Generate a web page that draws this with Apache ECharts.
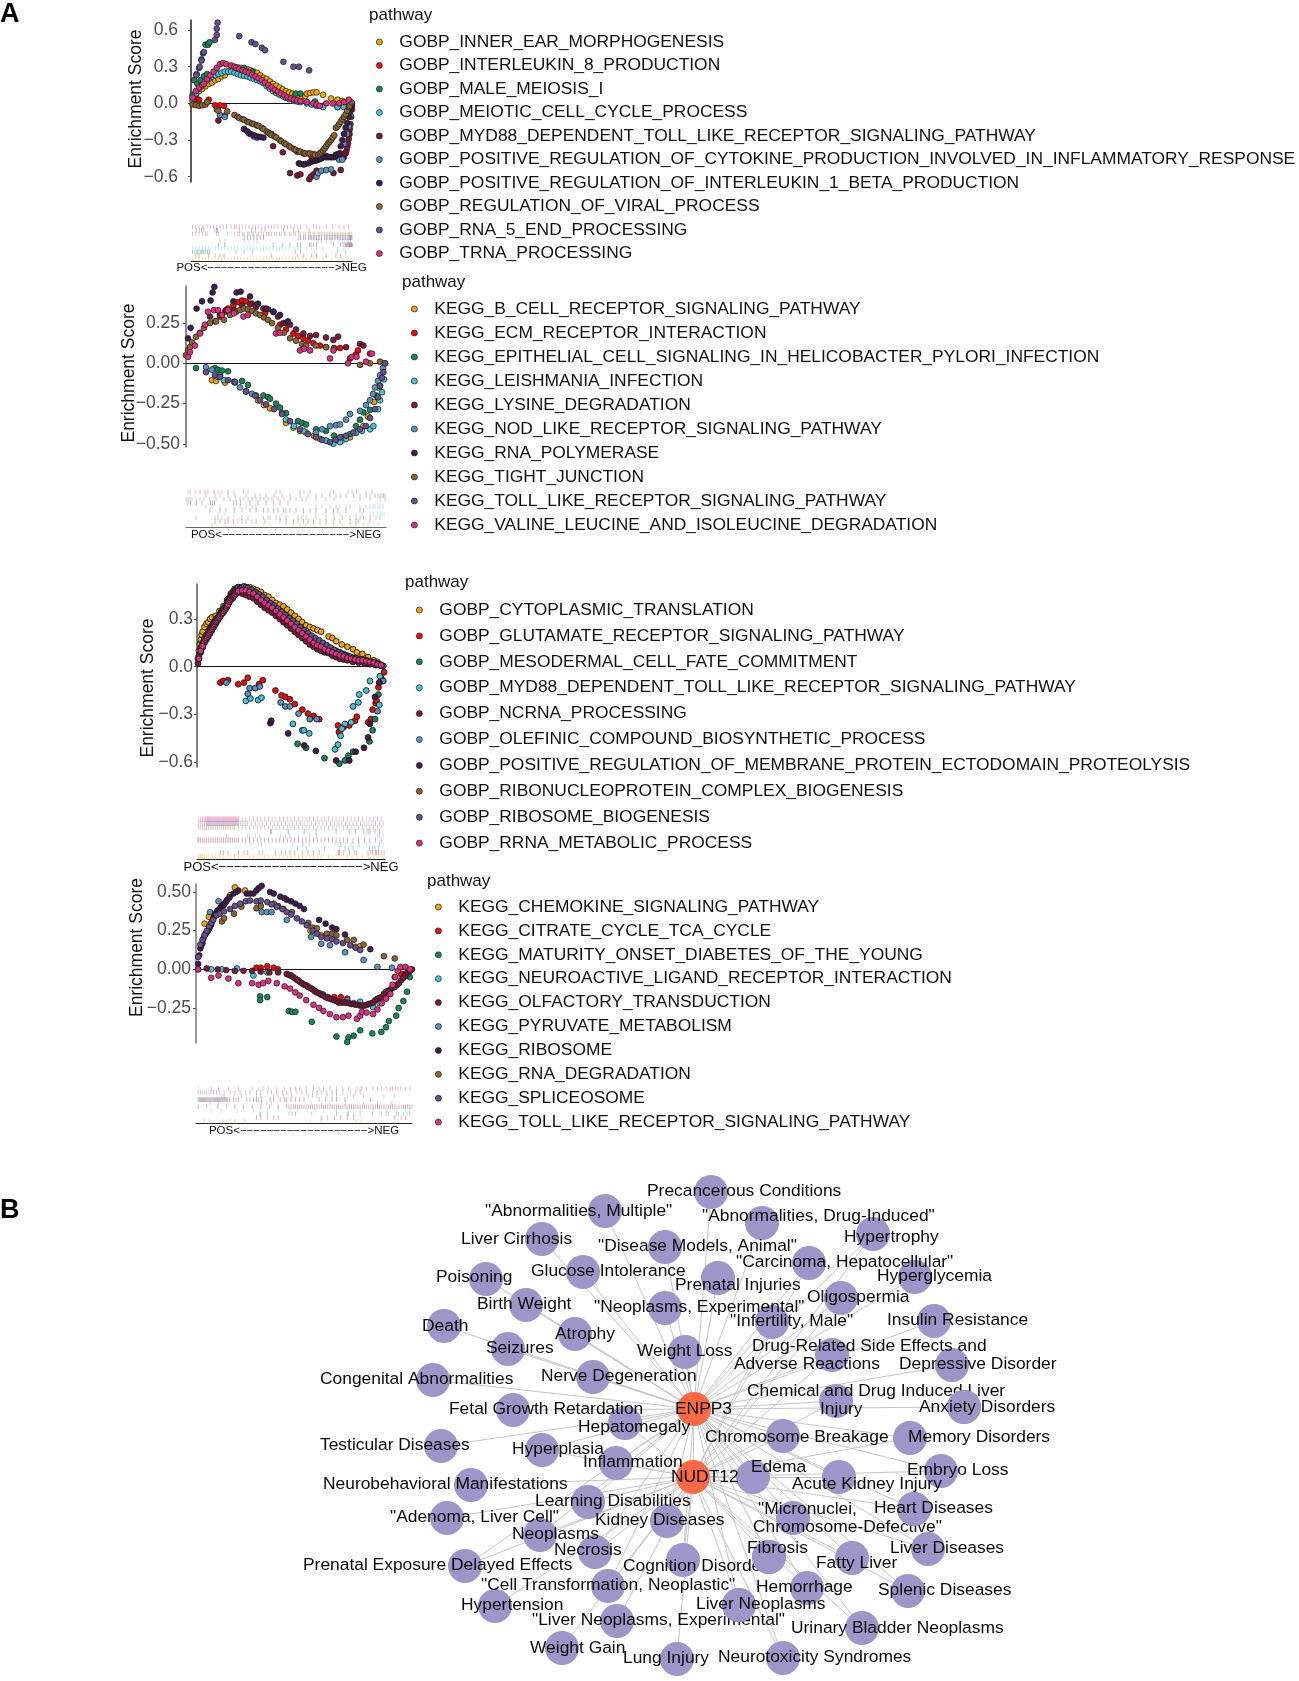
<!DOCTYPE html>
<html>
<head>
<meta charset="utf-8">
<style>html,body{margin:0;padding:0;background:#fff}#chart{width:1299px;height:1681px}</style>
<script src="https://cdn.jsdelivr.net/npm/echarts@6/dist/echarts.min.js"></script>
</head>
<body>
<div id="chart"></div>
<script>
// enrichment curves: flat lists of rank %, ES, rank %, ES ...
var colors = ['#F2A40C', '#EE0A0A', '#17875A', '#45C4D4', '#7A1A3A', '#5A92C0', '#3F1C50', '#8E6530', '#665090', '#DD3080'];

var namesA1 = ['GOBP_INNER_EAR_MORPHOGENESIS', 'GOBP_INTERLEUKIN_8_PRODUCTION', 'GOBP_MALE_MEIOSIS_I', 'GOBP_MEIOTIC_CELL_CYCLE_PROCESS', 'GOBP_MYD88_DEPENDENT_TOLL_LIKE_RECEPTOR_SIGNALING_PATHWAY', 'GOBP_POSITIVE_REGULATION_OF_CYTOKINE_PRODUCTION_INVOLVED_IN_INFLAMMATORY_RESPONSE', 'GOBP_POSITIVE_REGULATION_OF_INTERLEUKIN_1_BETA_PRODUCTION', 'GOBP_REGULATION_OF_VIRAL_PROCESS', 'GOBP_RNA_5_END_PROCESSING', 'GOBP_TRNA_PROCESSING'];
var namesA2 = ['KEGG_B_CELL_RECEPTOR_SIGNALING_PATHWAY', 'KEGG_ECM_RECEPTOR_INTERACTION', 'KEGG_EPITHELIAL_CELL_SIGNALING_IN_HELICOBACTER_PYLORI_INFECTION', 'KEGG_LEISHMANIA_INFECTION', 'KEGG_LYSINE_DEGRADATION', 'KEGG_NOD_LIKE_RECEPTOR_SIGNALING_PATHWAY', 'KEGG_RNA_POLYMERASE', 'KEGG_TIGHT_JUNCTION', 'KEGG_TOLL_LIKE_RECEPTOR_SIGNALING_PATHWAY', 'KEGG_VALINE_LEUCINE_AND_ISOLEUCINE_DEGRADATION'];
var namesA3 = ['GOBP_CYTOPLASMIC_TRANSLATION', 'GOBP_GLUTAMATE_RECEPTOR_SIGNALING_PATHWAY', 'GOBP_MESODERMAL_CELL_FATE_COMMITMENT', 'GOBP_MYD88_DEPENDENT_TOLL_LIKE_RECEPTOR_SIGNALING_PATHWAY', 'GOBP_NCRNA_PROCESSING', 'GOBP_OLEFINIC_COMPOUND_BIOSYNTHETIC_PROCESS', 'GOBP_POSITIVE_REGULATION_OF_MEMBRANE_PROTEIN_ECTODOMAIN_PROTEOLYSIS', 'GOBP_RIBONUCLEOPROTEIN_COMPLEX_BIOGENESIS', 'GOBP_RIBOSOME_BIOGENESIS', 'GOBP_RRNA_METABOLIC_PROCESS'];
var namesA4 = ['KEGG_CHEMOKINE_SIGNALING_PATHWAY', 'KEGG_CITRATE_CYCLE_TCA_CYCLE', 'KEGG_MATURITY_ONSET_DIABETES_OF_THE_YOUNG', 'KEGG_NEUROACTIVE_LIGAND_RECEPTOR_INTERACTION', 'KEGG_OLFACTORY_TRANSDUCTION', 'KEGG_PYRUVATE_METABOLISM', 'KEGG_RIBOSOME', 'KEGG_RNA_DEGRADATION', 'KEGG_SPLICEOSOME', 'KEGG_TOLL_LIKE_RECEPTOR_SIGNALING_PATHWAY'];

// panel 1
var p1Inner = [1,.02,3,.07,5,.1,7,.12,9,.14,11,.16,13,.17,15,.19,17,.2,19,.22,21,.23,23,.26,25,.28,27,.29,29,.295,31,.29,33,.285,35,.28,37,.27,39,.26,41,.25,43,.23,45,.21,47,.2,49,.18,51,.16,53,.145,55,.13,57,.115,59,.1,61,.09,63,.08,65,.07,67,.06,69,.05,71,.06,72,.08,74,.085,76,.09,78,.09,82,.07,87,.04,91,.03,94,.02,97,.01];
var p1Il8 = [3,.035,5,.03,11,.03,15,-.015,18,-.016,20.5,-.02,50,-.25,66,-.395,70,-.41,75,-.44,78,-.46,84,-.43,90,-.42,93,-.41];
var p1Meiosis = [1,.07,2,.19,3.5,.24,5,.29,6.5,.36,7.5,.41,9,.48,10.5,.48,11.5,.5,4,.16,6,.19,8,.22,10,.24,28,.285,33,.29,38,.26,65,.08,68,.08,77,.015,91,-.03,96,-.02];
var p1Meiotic = [1,.04,3,.08,5,.12,7,.15,9,.18,11,.2,13,.22,15,.23,17,.24,19,.25,21,.26,23,.26,25,.26,27,.25,29,.24,31,.23,33,.225,35,.22,37,.21,39,.2,41,.19,43,.18,45,.165,47,.14,49,.12,51,.1,53,.085,55,.07,57,.06,59,.045,61,.035,64,.02,66,.015,68,.01,72,0,75,-.01,78,-.02,82,-.03,91,-.03,95,-.03,98,0];
var p1Myd88 = [17,-.14,21,-.1,51,-.35,57,-.4,61.5,-.57,66,-.59,68,-.58,73.5,-.62,74.5,-.6,76,-.58,78,-.55,88.5,-.57,93,-.545,95,-.44,96,-.41,96.5,-.39,97,-.36,97.5,-.33,98,-.29,98.5,-.25,98.7,-.21,99,-.17,99.5,-.11,100,-.05,100,-.02];
var p1Cytokine = [18,-.095,21,-.11,33,-.21,36,-.245,39,-.27,41,-.28,78,-.6,79,-.57,81,-.55,84,-.545,87,-.54,92,-.46,94,-.46,95,-.33,97,-.25,98,-.19,99,-.1];
var p1Il1b = [33,-.21,35,-.23,37,-.25,39,-.26,41,-.27,43,-.275,45,-.28,67,-.49,68,-.495,70,-.5,71,-.495,73,-.49,74,-.48,75,-.475,76,-.47,77,-.47,78,-.465,79,-.46,80,-.455,81,-.45,83,-.44,84,-.44,85,-.44,86,-.44,87,-.44,88,-.44,89,-.44,90,-.43,91,-.42,92,-.41,93,-.35,94,-.3,95,-.25,96,-.2,97,-.16,98,-.11,98.5,-.07,99,-.03,99.5,-.02,100,0];
var p1Viral = [1,-.01,3,-.015,5,-.02,7,-.015,9,-.01,10,.01,16,-.05,17,-.06,22.5,-.065,27,-.095,29,-.11,30,-.12,32,-.13,33,-.135,35,-.15,36,-.155,38,-.165,39,-.17,41,-.18,42,-.185,44,-.2,45,-.21,47,-.23,48,-.24,49,-.25,50,-.26,52,-.27,53,-.28,55,-.3,56,-.31,58,-.325,59,-.335,61,-.35,62,-.36,64,-.375,65,-.38,67,-.39,68,-.395,70,-.405,71,-.41,73,-.41,74,-.41,76,-.415,77,-.42,79,-.42,80,-.41,81,-.4,82,-.385,83,-.37,84,-.35,85,-.33,86,-.315,87,-.3,88,-.28,89,-.26,90,-.2,91,-.19,92,-.17,93,-.15,94,-.13,95,-.11,96,-.09,97,-.06,98,-.03,98.5,-.02,99.5,.01];
var p1Rna5 = [3.3,.23,5.4,.3,6.5,.35,8,.42,14.8,.52,16,.56,16,.61,16.5,.66,30,.55,37.6,.5,40,.485,44,.455,46,.435,57.4,.34,63.6,.3,67,.3,73.4,.27];
var p1Trna = [1,.05,3,.1,5,.13,7,.15,8,.16,10,.2,12,.23,14,.26,16,.29,18,.32,20,.33,22,.32,25,.31,27,.3,28,.29,30,.28,32,.27,34,.26,36,.25,38,.235,40,.22,42,.205,44,.19,46,.17,48,.15,50,.13,52,.11,54,.095,56,.08,58,.065,60,.05,62,.04,64,.03,66,.025,68,.02,72,.01,76,0,78,-.01,80,-.02,84,0,88,0,92,0,95,.01,98,.03];

// panel 2
var p2Bcell = [13,-.105,15,-.11,19.5,-.12,36,-.23,39,-.26,42,-.28,50,-.37,53.7,-.4,57,-.42,60,-.43,64,-.45,67,-.47,70,-.48,73.7,-.49,78,-.48,82,-.46,85,-.43,88.7,-.39,91,-.33,94,-.24,96,-.15];
var p2Ecm = [14.5,.26,17,.29,19.5,.32,21,.34,23.7,.36,26,.38,28,.39,30,.385,33,.37,35,.35,39.5,.31,47,.24,50,.21,53.7,.185,56,.17,58.7,.155,61,.14,63.7,.125,67,.11,70,.1,74,.095,77,.095,82,.03,85,.055,86,.08,92,.06];
var p2Epith = [5,-.03,14.5,-.03,16,-.04,18,-.045,21,-.05,28,-.11,31,-.135,38.7,-.2,41,-.21,42,-.22,45,-.25,47,-.275,50,-.31,56,-.36,58,-.37,60,-.38,65,-.41,70,-.42,74,-.45,78,-.46,82,-.44,85,-.39,87,-.35,88.7,-.305,92,-.29,95,-.2,97,-.14];
var p2Leish = [16,-.085,19,-.105,24,-.115,48,-.31,50,-.35,54,-.39,58.7,-.42,65,-.45,70,-.48,73.7,-.5,77,-.49,80,-.47,85,-.43,88,-.42,92,-.41,93.7,-.39,96,-.285,97,-.23,98,-.18,99,-.1];
var p2Lysine = [12,.29,17,.3,20,.33,24,.33,28,.36,32,.37,35,.36,38.7,.34,41,.335,43.7,.32,46,.29,48.7,.25,50,.25,52,.24,55,.21,58.7,.185,62,.17,65,.175,70,.16,73.7,.145,76,.165,80,.1,87,.12,88.7,.11];
var p2Nod = [10,-.025,13,-.04,17,-.075,24.5,-.12,27,-.15,30,-.175,33,-.19,35,-.2,65,-.43,68,-.41,72,-.39,75,-.385,77,-.38,80,-.35,82,-.315,87,-.295,90,-.26,92,-.23,93.5,-.19,94.5,-.15,96,-.11,97,-.075,98.5,-.03];
var p2RnaPol = [1,.155,2.3,.22,5.3,.34,8,.385,12.3,.39,13.3,.44,14.2,.475,23.7,.385,25.3,.44,27.3,.445,32,.415,36,.37,40,.34,43.7,.32,47,.3,51,.26];
var p2Tight = [0,.05,1,.08,2,.1,3,.13,5,.165,7,.19,9,.22,12,.25,15,.26,19,.27,22,.3,25,.32,27,.33,29,.34,31,.335,33,.325,35,.31,37,.3,39,.285,41,.27,43,.25,46,.22,49,.19,52,.155,55,.14,58,.12,60,.11,65,.11,70,.1,74,.09,87,-.01,92,0,97,.01,99.5,0];
var p2Toll = [10,-.055,14.5,-.075,17,-.085,21,-.105,24.5,-.115,30,-.175,34.5,-.2,37,-.23,40,-.255,44,-.285,48,-.315,52,-.36,57,-.41,61,-.44,65,-.46,68,-.475,72,-.49,75,-.475,77,-.46,80,-.45,83.7,-.43,87,-.41,90,-.39,92,-.34,94.5,-.285,96,-.21,97,-.14,98,-.09,98.7,-.055,99.5,0];
var p2Valine = [1,.04,2,.07,4.5,.11,7,.185,9.5,.24,11,.32,14,.33,16,.33,18,.3,21,.33,24,.31,28.7,.29,31,.3,45,.185,47,.19,57,.08,59,.09,62,.08,72,.03,73.7,.08,81,0,83,.04,85.3,.04,90,.01,93,.06];

// panel 3
var p3Cyto = [.5,.05,1,.1,1.5,.14,2,.17,2.5,.2,3,.22,4,.25,5,.27,6,.28,7,.3,8,.31,10,.32,12,.35,14,.38,16,.42,18,.46,20,.49,22,.5,24,.5,26,.5,28,.5,30,.49,32,.48,34,.47,36,.45,38,.44,40,.42,42,.4,44,.39,46,.38,48,.36,50,.34,52,.32,54,.3,56,.28,58,.26,60,.25,62,.24,64,.23,66,.22,70,.19,72,.18,74,.16,77,.14,80,.125,83,.11,85,.09,88,.08,91,.06,94,.04,96,.03,99,.005];
var p3Glutamate = [12.4,-.1,14,-.09,16.5,-.085,22,-.11,25,-.1,27,-.07,33,-.11,35,-.085,41.7,-.15,45,-.18,47,-.19,49.4,-.205,52,-.235,56,-.27,59,-.295,62,-.31,65,-.33,75,-.37,75.5,-.41,75.7,-.415,78,-.38,81,-.37,84,-.34,85,-.315,91,-.35,92.5,-.33,93.4,-.27,95,-.23,95.5,-.215,96.5,-.13,98,-.07,99.5,-.035];
var p3Mesoderm = [53.5,-.485,58,-.51,67.8,-.575,75.7,-.61,78.7,-.59,80.5,-.56,83,-.535,91.7,-.47,93.4,-.4,94.7,-.33,96.5,-.175];
var p3Myd88 = [26,-.215,28.4,-.2,32.5,-.21,34.3,-.195,51,-.36,56,-.4,56.8,-.4,59.7,-.42,73.4,-.52,75,-.49,76.4,-.435,77,-.39,78.7,-.36,82,-.35,83,-.25,85.8,-.225,86.3,-.175,90,-.15,92,-.09,97.3,-.06,99,-.09,97,-.24];
var p3Ncrna = [.5,.02,1,.05,2,.09,3,.12,4,.15,5,.17,6,.19,7,.21,8,.23,9,.25,10,.27,11,.29,12,.31,13,.33,14,.35,15,.36,16,.38,17,.4,18,.42,19,.43,20,.45,21,.46,22,.47,24,.46,26,.45,28,.44,30,.43,32,.41,34,.39,36,.37,38,.355,40,.34,42,.32,44,.3,46,.28,48,.26,50,.24,52,.22,54,.2,56,.18,58,.16,60,.14,62,.125,64,.11,66,.1,68,.09,70,.085,72,.07,74,.06,76,.05,78,.045,80,.04,83,.03,86,.025,89,.02,92,.015,95,.01,98,.005];
var p3Olefinic = [15.6,-.1,28,-.135,31,-.135,33.4,-.125,27,-.17,44.5,-.225,47,-.25,49.4,-.25,54,-.295,60,-.33,63.6,-.33,96,-.28,97,-.1,99,-.09];
var p3Membrane = [39,-.355,39.5,-.34,48.5,-.42,57,-.495,63.2,-.53,74,-.59,81,-.59,84.4,-.535,88.8,-.51,91,-.445,92,-.36,94.7,-.19,97,-.1];
var p3Ribonuc = [1,.07,2,.12,3,.15,4,.18,5,.2,6,.22,7,.24,8,.26,9,.28,10,.3,11,.31,12,.33,13,.35,14,.36,15,.38,16,.41,17,.43,18,.45,19,.47,20,.48,22,.49,24,.49,26,.49,28,.48,30,.47,32,.45,34,.43,36,.42,38,.4,40,.38,42,.37,44,.35,46,.33,48,.31,50,.29,52,.27,54,.25,56,.23,58,.21,60,.19,62,.17,64,.16,66,.15,68,.13,70,.12,72,.11,74,.1,76,.09,78,.08,80,.07,82,.06,84,.055,86,.05,88,.045,90,.04,92,.03,94,.025,96,.02,98,.01];
var p3Ribosome = [1,.06,2,.11,3,.14,4,.17,5,.19,5.5,.2,6,.21,6.5,.22,7,.23,7.5,.24,8,.25,8.5,.26,9,.27,9.5,.28,10,.29,10.5,.295,11,.3,11.5,.31,12,.32,12.5,.33,13,.34,13.5,.35,14,.36,14.5,.365,15,.375,15.5,.385,16,.395,16.5,.41,17,.42,17.5,.43,18,.44,18.5,.45,19,.46,19.5,.47,20,.475,20.5,.48,21,.49,21.5,.49,22,.5,23,.495,24,.5,25,.505,26,.5,27,.495,29,.485,31,.47,33,.455,35,.44,37,.42,39,.4,41,.385,43,.365,45,.345,47,.325,49,.305,51,.29,53,.27,55,.25,57,.23,59,.21,61,.195,63,.18,65,.165,67,.15,69,.135,71,.12,73,.105,75,.09,77,.08,79,.07,81,.065,83,.055,85,.05,87,.045,89,.04,91,.035,93,.03,95,.02,97,.015,99,.005];
var p3Rrna = [1,.05,2,.1,3,.13,4,.16,4.5,.17,5,.18,5.5,.19,6,.2,6.5,.21,7,.22,7.5,.23,8,.24,8.5,.25,9,.26,9.5,.27,10,.28,10.5,.285,11,.295,11.5,.305,12,.31,12.5,.32,13,.33,13.5,.335,14,.34,14.5,.35,15,.36,15.5,.37,16,.38,16.5,.39,17,.41,17.5,.42,18,.43,18.5,.44,19,.445,19.5,.45,20,.45,20.5,.46,21,.47,21.5,.47,22,.475,24,.48,26,.48,28,.47,30,.46,32,.44,34,.42,36,.4,38,.385,40,.37,42,.35,44,.33,46,.31,48,.29,50,.27,52,.25,54,.23,56,.21,58,.19,60,.17,62,.15,64,.135,66,.125,68,.11,70,.1,72,.09,74,.08,76,.07,78,.065,80,.055,82,.05,84,.045,86,.04,88,.04,90,.035,92,.03,94,.025,96,.015,98,.01];

// panel 4
var p4Chemokine = [4,.295,6,.34,12.7,.415,15.8,.48,18,.53,22.7,.51,53,.25,58,.22,73.7,.145,76,.15];
var p4Citrate = [28,.01,30,.01,33,.02,36,.01,38,0,58,-.16,61,-.18,64,-.18,67,-.18,70,-.19,73,-.22,92,-.05,95,-.03,97,-.03];
var p4Maturity = [29.7,-.175,29.7,-.2,33,-.18,43,-.27,44.5,-.275,46,-.275,53.6,-.34,65,-.435,70.6,-.44,70,-.47,73,-.43,76,-.395,81.6,-.415,85.8,-.405,88,-.375,89.3,-.335,92.7,-.3,93.8,-.25,96,-.205,97.7,-.145,99,-.05];
var p4Neuro = [7,0,12,0,19,.005,26.6,-.04,33,-.02,38,-.015,43.6,-.04,47,-.07,51.3,-.105,55,-.14,59,-.165,65,-.205,70,-.2,76,-.21,82,-.245,85,-.22,88,-.17,93,-.1,97,-.04,99,-.01];
var p4Olfactory = [1,0,5,.005,10,0,14,-.005,18,-.01,22,-.01,26,-.01,30,-.015,34,-.02,38,-.02,42,-.03,43,-.035,44,-.04,45,-.05,46,-.06,47,-.07,48,-.08,49,-.09,50,-.1,51,-.105,52,-.115,53,-.12,54,-.13,55,-.14,56,-.15,57,-.155,58,-.165,59,-.17,60,-.18,61,-.185,62,-.19,63,-.195,64,-.2,65,-.205,66,-.215,67,-.215,68,-.215,69,-.215,70,-.215,71,-.22,72,-.225,73,-.225,74,-.23,75,-.23,76,-.235,77,-.235,78,-.235,79,-.23,80,-.225,81,-.22,82,-.215,83,-.2,84,-.19,85,-.185,86,-.18,87,-.16,88,-.145,89,-.14,90,-.13,91,-.12,92,-.115,93,-.1,94,-.09,95,-.07,96,-.055,97,-.04,98,-.02,99,-.01,100,0];
var p4Pyruvate = [6.5,.37,10.4,.44,30.4,.37,32.8,.37,35,.37,42,.32,53.3,.21,58,.165,62,.155,69,.11,77.6,.06,84,.015,90.7,.01];
var p4Ribosome = [1,.035,1.5,.09,2,.135,2.5,.155,3,.17,3.5,.2,4,.22,4.5,.23,5,.24,5.5,.25,6,.26,6.5,.275,7,.29,7.5,.31,8,.33,8.5,.345,9,.36,9.6,.37,10,.38,10.5,.385,11,.39,11.5,.4,12,.41,12.5,.415,13,.42,13.5,.43,14,.44,14.5,.45,15.5,.465,17.3,.49,18.5,.5,19.6,.51,23.5,.49,25,.49,26.6,.49,28,.51,29,.525,30.4,.54,34.3,.5,36,.49,39,.47,41,.46,42,.45,44,.44,46,.425,48,.41,50,.39,57,.32,60,.295,63,.27,65,.26,69,.225,80.7,.13];
var p4RnaDeg = [12,.31,13,.33,17.6,.36,21,.405,28,.395,30,.41,36,.425,38,.41,40.5,.39,44.4,.37,52,.3,54,.27,56,.265,60.6,.23,63,.23,65,.22,70,.19,73,.19,77.6,.16,87,.085,92,.07];
var p4Splice = [1,.08,2,.16,3,.19,4,.22,5,.25,6,.28,7,.3,8,.32,9.5,.35,11,.36,13,.375,15.8,.39,18,.41,20.4,.425,23,.44,25,.445,28,.44,30,.445,33,.435,35,.42,37.4,.405,40,.39,42,.37,44,.355,46.7,.33,49,.31,51.3,.285,54,.25,56,.23,58,.21,60.6,.2,63,.195,65,.18,68,.17,71.4,.155,74,.14,76,.125];
var p4Toll = [1,0,7,-.055,10.4,-.04,15,-.06,19.6,-.09,26,-.09,29,-.1,31,-.09,33.5,-.075,37.4,-.09,41,-.11,43.6,-.125,46,-.15,48,-.17,51,-.2,54.4,-.23,57,-.25,59,-.27,62,-.29,65,-.31,68,-.31,70.6,-.3,74.5,-.32,76,-.3,76.8,-.275,79,-.28,82,-.29,84,-.26,86,-.22,88,-.19,90,-.16,91,-.1,92.3,-.05,93.5,-.01,94.6,.015,97,.015,99,0];

// GSEA panels: legend names, y ticks and curves
var seriesA1 = [p1Inner, p1Il8, p1Meiosis, p1Meiotic, p1Myd88, p1Cytokine, p1Il1b, p1Viral, p1Rna5, p1Trna];
var seriesA2 = [p2Bcell, p2Ecm, p2Epith, p2Leish, p2Lysine, p2Nod, p2RnaPol, p2Tight, p2Toll, p2Valine];
var seriesA3 = [p3Cyto, p3Glutamate, p3Mesoderm, p3Myd88, p3Ncrna, p3Olefinic, p3Membrane, p3Ribonuc, p3Ribosome, p3Rrna];
var seriesA4 = [p4Chemokine, p4Citrate, p4Maturity, p4Neuro, p4Olfactory, p4Pyruvate, p4Ribosome, p4RnaDeg, p4Splice, p4Toll];
var ticksA1 = [-0.6, -0.3, 0, 0.3, 0.6];
var ticksA2 = [-0.5, -0.25, 0, 0.25];
var ticksA3 = [-0.6, -0.3, 0, 0.3];
var ticksA4 = [-0.25, 0, 0.25, 0.5];
var rugLabel = 'POS<−−−−−−−−−−−−−−−−−−−>NEG';

// network B: nodes, layout position, where the label starts
var hubNames = ['ENPP3', 'NUDT12'];
var hubX = [694, 693];
var hubY = [1409, 1477];
var hubLabelX = [675, 671];
var netNames = ['Precancerous Conditions', '"Abnormalities, Multiple"', '"Abnormalities, Drug-Induced"', 'Hypertrophy', 'Liver Cirrhosis', '"Disease Models, Animal"', '"Carcinoma, Hepatocellular"', 'Hyperglycemia', 'Poisoning', 'Glucose Intolerance', 'Prenatal Injuries', 'Oligospermia', 'Birth Weight', '"Neoplasms, Experimental"', '"Infertility, Male"', 'Insulin Resistance', 'Death', 'Atrophy', 'Seizures', 'Weight Loss', 'Drug-Related Side Effects and Adverse Reactions', 'Depressive Disorder', 'Nerve Degeneration', 'Congenital Abnormalities', 'Chemical and Drug Induced Liver Injury', 'Anxiety Disorders', 'Fetal Growth Retardation', 'Hepatomegaly', 'Chromosome Breakage', 'Memory Disorders', 'Testicular Diseases', 'Hyperplasia', 'Inflammation', 'Edema', 'Acute Kidney Injury', 'Embryo Loss', 'Neurobehavioral Manifestations', 'Learning Disabilities', '"Micronuclei, Chromosome-Defective"', 'Heart Diseases', '"Adenoma, Liver Cell"', 'Kidney Diseases', 'Neoplasms', 'Necrosis', 'Fibrosis', 'Liver Diseases', 'Fatty Liver', 'Cognition Disorders', 'Prenatal Exposure Delayed Effects', '"Cell Transformation, Neoplastic"', 'Hemorrhage', 'Splenic Diseases', 'Hypertension', 'Liver Neoplasms', '"Liver Neoplasms, Experimental"', 'Urinary Bladder Neoplasms', 'Weight Gain', 'Lung Injury', 'Neurotoxicity Syndromes'];
var netX = [711,605,762,873,542,665,809,915,486,583,718,841,526,665,772,934,444,575,508,685,832,952,593,433,836,964,513,625,783,910,441,542,616,753,839,941,471,588,793,914,447,667,540,595,769,928,852,683,465,608,807,908,495,739,617,862,562,677,783];
var netY = [1192,1211,1223,1234,1239,1247,1263,1277,1279,1272,1278,1298,1305,1308,1322,1321,1326,1334,1349,1352,1355,1365,1377,1380,1401,1407,1410,1423,1436,1438,1446,1450,1463,1477,1477,1471,1485,1502,1518,1509,1518,1521,1535,1552,1557,1549,1558,1560,1566,1586,1588,1591,1606,1605,1621,1628,1648,1659,1658];
var netLabelX = [647,485,702,844,461,598,736,877,436,531,675,807,477,594,730,887,422,555,486,637,734,899,541,320,747,919,449,578,705,908,320,512,583,751,792,907,323,535,753,874,390,595,512,554,747,890,816,623,303,481,756,878,461,696,532,791,530,623,718];
var netLabelY = [1191,1211,1216,1237,1239,1246,1262,1276,1277,1271,1285,1297,1304,1307,1321,1320,1326,1334,1348,1351,1355,1364,1376,1379,1400,1407,1409,1427,1437,1437,1445,1449,1462,1467,1484,1470,1484,1501,1518,1508,1517,1520,1534,1550,1548,1548,1563,1566,1565,1585,1587,1590,1605,1604,1620,1628,1648,1658,1657];
// two line labels: name index -> first line, second line, indent of each line
var netTwoLine = {
  20: ['Drug-Related Side Effects and', 'Adverse Reactions', 18, 0],
  24: ['Chemical and Drug Induced Liver', 'Injury', 0, 73],
  38: ['"Micronuclei,', 'Chromosome-Defective"', 5, 0]
};
// nodes whose disc hides neighbouring text in the original
var netOnTop = [25, 39, 44, 53];
var enpp3Skip = [36, 40, 52, 54, 56, 57];
var nudt12Links = [3, 6, 11, 14, 20, 24, 27, 28, 29, 31, 32, 33, 34, 35, 36, 37, 38, 39, 40, 41, 42, 43, 44, 45, 46, 47, 48, 49, 50, 51, 52, 53, 54, 55, 56, 57, 58];

var fontName = '"Liberation Sans", Arial, sans-serif';

// pixel layout of each GSEA panel
var panels = [
  {names: namesA1, curves: seriesA1, ticks: ticksA1, dec: 1, left: 191, right: 352, top: 20, bottom: 182, min: -0.643, max: 0.682, nameX: 136, namePad: [0, 0, 0, 4], tickGap: 13, edge: 0.7,
   rugTop: 225, rugBottom: 261, rugGap: 1, rugFont: 11.5, legendX: 376, legendY: 42, step: 23.5, titleX: 369, titleY: 16, axis: '#222', rugAxis: '#222'},
  {names: namesA2, curves: seriesA2, ticks: ticksA2, dec: 2, left: 186, right: 386, top: 286, bottom: 447, min: -0.52, max: 0.48, nameX: 129, namePad: [0, 13, 0, 0], tickGap: 6, edge: 0.7,
   rugTop: 490, rugBottom: 527, rugGap: 1.5, rugFont: 11.5, legendX: 411, legendY: 309, step: 24, titleX: 402, titleY: 283, axis: '#666', rugAxis: '#666'},
  {names: namesA3, curves: seriesA3, ticks: ticksA3, dec: 1, left: 197, right: 385, top: 584, bottom: 767, min: -0.631, max: 0.52, nameX: 148, namePad: [0, 25, 0, 0], tickGap: 4, edge: 0.9,
   rugTop: 817, rugBottom: 859, rugGap: 1.5, rugFont: 13, legendX: 416, legendY: 610, step: 25.9, titleX: 405, titleY: 583, axis: '#555', rugAxis: '#111'},
  {names: namesA4, curves: seriesA4, ticks: ticksA4, dec: 2, left: 196, right: 412, top: 884, bottom: 1043, min: -0.477, max: 0.552, nameX: 137, namePad: [0, 0, 0, 32], tickGap: 5, edge: 0.7,
   rugTop: 1087, rugBottom: 1123, rugGap: 1.5, rugFont: 11.5, legendX: 435, legendY: 907, step: 23.9, titleX: 427, titleY: 882, axis: '#777', rugAxis: '#222'}
];

function pairs(flat) {
  var out = [];
  for (var i = 0; i + 1 < flat.length; i += 2) out.push([flat[i], flat[i + 1]]);
  return out;
}

var option = {
  backgroundColor: '#fff',
  animation: false,
  textStyle: {fontFamily: fontName},
  title: [
    {text: 'A', left: 0, top: 1, textStyle: {fontFamily: fontName, fontSize: 27, fontWeight: 'bold', color: '#000'}, padding: 0},
    {text: 'B', left: 0, top: 1197, textStyle: {fontFamily: fontName, fontSize: 27, fontWeight: 'bold', color: '#000'}, padding: 0}
  ],
  grid: [], xAxis: [], yAxis: [], legend: [], series: []
};

panels.forEach(function (p, k) {
  var mainAxis = k * 2, rugAxis = k * 2 + 1;
  option.title.push({text: 'pathway', left: p.titleX, top: p.titleY - 9, padding: 0,
    textStyle: {fontFamily: fontName, fontSize: 17, fontWeight: 'normal', color: '#111'}});

  option.grid.push({left: p.left, width: p.right - p.left, top: p.top, height: p.bottom - p.top});
  option.grid.push({left: p.left, width: p.right - p.left, top: p.rugTop, height: p.rugBottom - p.rugTop});

  option.xAxis.push({gridIndex: mainAxis, type: 'value', min: 0, max: 100,
    splitLine: {show: false}, axisTick: {show: false}, axisLabel: {show: false},
    axisLine: {show: true, onZero: true, lineStyle: {color: '#111', width: 1.2}}});
  option.yAxis.push({gridIndex: mainAxis, type: 'value', min: p.min, max: p.max, splitLine: {show: false},
    name: 'Enrichment Score', nameLocation: 'middle', nameGap: p.left - p.nameX - 9, nameMoveOverlap: false,
    nameTextStyle: {fontFamily: fontName, fontSize: 17.5, color: '#111', padding: p.namePad},
    axisLine: {show: true, onZero: false, lineStyle: {color: p.axis, width: 1.5}},
    axisTick: {show: true, length: 3, customValues: p.ticks, lineStyle: {color: '#555'}},
    axisLabel: {customValues: p.ticks, color: '#4d4d4d', fontSize: 17.5, fontFamily: fontName, margin: p.tickGap,
      formatter: function (v) { return v.toFixed(p.dec).replace('-', '−'); }}});

  option.xAxis.push({gridIndex: rugAxis, type: 'value', min: 0, max: 100, position: 'bottom',
    splitLine: {show: false}, axisTick: {show: false}, axisLabel: {show: false},
    name: rugLabel, nameLocation: 'middle', nameGap: p.rugGap,
    nameTextStyle: {fontFamily: fontName, fontSize: p.rugFont, color: '#111'},
    axisLine: {show: true, onZero: false, lineStyle: {color: p.rugAxis, width: 1.2}}});
  option.yAxis.push({gridIndex: rugAxis, type: 'value', min: 0, max: 10, show: false});

  var legendData = [];
  p.names.forEach(function (name, i) {
    var pts = pairs(p.curves[i]);
    legendData.push({name: name, itemStyle: {color: colors[i]}});
    option.series.push({type: 'scatter', name: name, xAxisIndex: mainAxis, yAxisIndex: mainAxis, data: pts,
      symbolSize: 5.8, clip: false, silent: true,
      itemStyle: {color: colors[i], borderColor: '#1a1a1a', borderWidth: p.edge, opacity: 1}});
    var rowH = (p.rugBottom - p.rugTop) / 10;
    option.series.push({type: 'scatter', name: name + ' rug', xAxisIndex: rugAxis, yAxisIndex: rugAxis,
      data: pts.map(function (d) { return [d[0], i + 0.5]; }),
      symbol: 'rect', symbolSize: [0.8, rowH + 1], silent: true,
      itemStyle: {color: colors[i], opacity: 0.4}});
  });
  option.legend.push({data: legendData, icon: 'circle', orient: 'vertical', left: p.legendX, top: p.legendY - 10, padding: 0,
    itemWidth: 30, itemHeight: 6, symbolKeepAspect: true, selectedMode: false, itemGap: p.step - 20,
    itemStyle: {borderColor: '#222', borderWidth: 0.7},
    textStyle: {fontFamily: fontName, fontSize: 17.4, lineHeight: 20, color: '#111'}});
});

// network grid: axis units are the layout units of the drawing
var netGrid = option.grid.length;
option.grid.push({left: 0, top: 0, width: 1299, height: 1681});
option.xAxis.push({gridIndex: netGrid, type: 'value', min: 0, max: 1299, show: false});
option.yAxis.push({gridIndex: netGrid, type: 'value', min: 0, max: 1681, inverse: true, show: false});

function netLabel(i) {
  var base = {show: true, position: 'inside', align: 'left', verticalAlign: 'middle', color: '#0a0a0a', formatter: '{b}',
    fontFamily: fontName, fontSize: 17.4, offset: [netLabelX[i] - netX[i], netLabelY[i] - netY[i]]};
  var two = netTwoLine[i];
  if (two) {
    base.formatter = '{a|' + two[0] + '}\n{b|' + two[1] + '}';
    base.rich = {
      a: {fontFamily: fontName, fontSize: 17.4, color: '#0a0a0a', lineHeight: 18, padding: [0, 0, 0, two[2]]},
      b: {fontFamily: fontName, fontSize: 17.4, color: '#0a0a0a', lineHeight: 18, padding: [0, 0, 0, two[3]]}
    };
  }
  return base;
}

var netData = netNames.map(function (name, i) {
  var top = netOnTop.indexOf(i) >= 0;
  var label = netLabel(i);
  if (top) label = {show: false};
  return {name: name, value: [netX[i], netY[i]], label: label};
});
hubNames.forEach(function (name, i) {
  netData.push({name: name, value: [hubX[i], hubY[i]], itemStyle: {color: '#FC6A45'},
    label: {show: true, position: 'inside', align: 'left', verticalAlign: 'middle', color: '#0a0a0a', formatter: '{b}',
      fontFamily: fontName, fontSize: 17.4, offset: [hubLabelX[i] - hubX[i], 0]}});
});
var netLinks = [{source: 'ENPP3', target: 'NUDT12'}];
netNames.forEach(function (name, i) {
  if (enpp3Skip.indexOf(i) < 0) netLinks.push({source: 'ENPP3', target: name});
});
nudt12Links.forEach(function (i) {
  netLinks.push({source: 'NUDT12', target: netNames[i]});
});

option.series.push({type: 'graph', coordinateSystem: 'cartesian2d', xAxisIndex: netGrid, yAxisIndex: netGrid,
  layout: 'none', data: netData, links: netLinks, symbolSize: 34, silent: true, z: 3,
  itemStyle: {color: '#9C96C9', opacity: 1},
  lineStyle: {color: '#C6C6C6', width: 1, opacity: 1, curveness: 0}});
option.series.push({type: 'scatter', name: 'netTop', xAxisIndex: netGrid, yAxisIndex: netGrid, z: 6, silent: true,
  symbolSize: 34, itemStyle: {color: '#9C96C9', opacity: 1},
  data: netOnTop.map(function (i) { return {value: [netX[i], netY[i]], label: netLabel(i), name: netNames[i]}; })});

var myChart = echarts.init(document.getElementById('chart'), null, {renderer: 'canvas'});
myChart.setOption(option);
</script>
</body>
</html>
